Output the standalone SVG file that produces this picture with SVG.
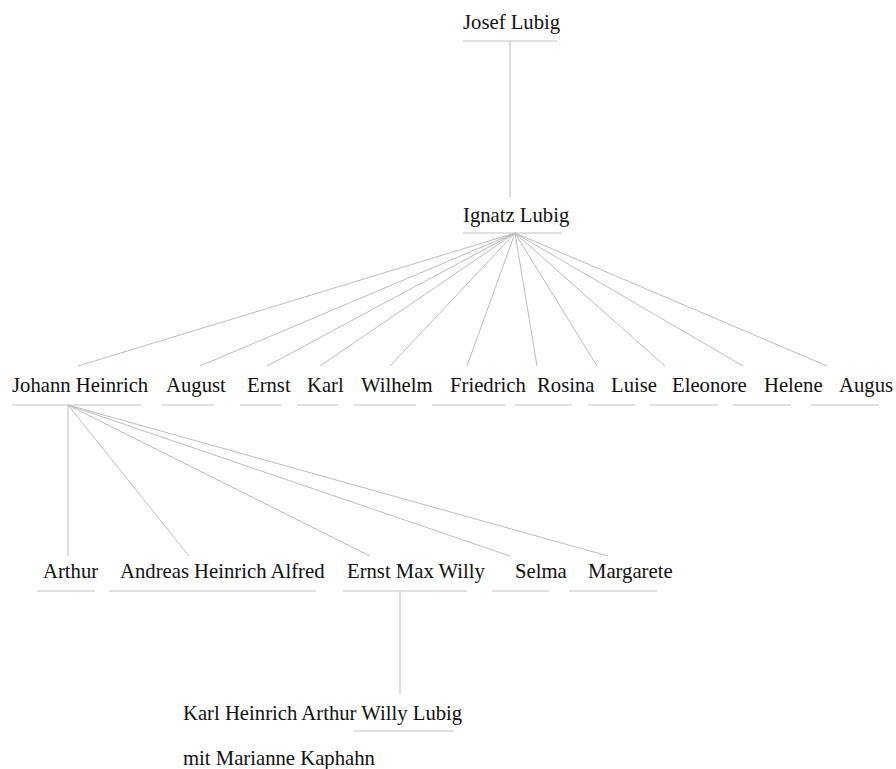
<svg xmlns="http://www.w3.org/2000/svg" width="896" height="769" viewBox="0 0 896 769">
<style>
text{font-family:"Liberation Serif","Times New Roman",serif;font-size:20.7px;fill:#111}
.u{stroke:#c4c4c4;stroke-width:1;fill:none}
.c line{stroke:#bdbdbd;stroke-width:1}
</style>
<rect width="896" height="769" fill="#fff"/>
<g class="c" id="connectors">
<line x1="510" y1="41" x2="510" y2="197"/>
<line x1="515" y1="233" x2="78" y2="366"/>
<line x1="515" y1="233" x2="200" y2="366"/>
<line x1="515" y1="233" x2="267" y2="366"/>
<line x1="515" y1="233" x2="320" y2="366"/>
<line x1="515" y1="233" x2="390" y2="366"/>
<line x1="515" y1="233" x2="467" y2="366"/>
<line x1="515" y1="233" x2="537" y2="366"/>
<line x1="515" y1="233" x2="597" y2="366"/>
<line x1="515" y1="233" x2="665" y2="366"/>
<line x1="515" y1="233" x2="743" y2="366"/>
<line x1="515" y1="233" x2="827" y2="366"/>
<line x1="68" y1="405" x2="68" y2="556"/>
<line x1="68" y1="405" x2="189" y2="556"/>
<line x1="68" y1="405" x2="370" y2="556"/>
<line x1="68" y1="405" x2="510" y2="556"/>
<line x1="68" y1="405" x2="608" y2="556"/>
<line x1="400" y1="591" x2="400" y2="694"/>
</g>
<g id="josef"><text x="463" y="29">Josef Lubig</text><line class="u" x1="463" y1="41" x2="557" y2="41"/></g>
<g id="ignatz"><text x="463" y="222">Ignatz Lubig</text><line class="u" x1="463" y1="233" x2="562" y2="233"/></g>
<g id="johann"><text x="12" y="392">Johann Heinrich</text><line class="u" x1="12" y1="405" x2="141" y2="405"/></g>
<g id="august"><text x="166" y="392">August</text><line class="u" x1="162" y1="405" x2="214" y2="405"/></g>
<g id="ernst"><text x="247" y="392">Ernst</text><line class="u" x1="240" y1="405" x2="281" y2="405"/></g>
<g id="karl"><text x="307" y="392">Karl</text><line class="u" x1="297" y1="405" x2="338" y2="405"/></g>
<g id="wilhelm"><text x="361" y="392">Wilhelm</text><line class="u" x1="354" y1="405" x2="416" y2="405"/></g>
<g id="friedrich"><text x="450" y="392">Friedrich</text><line class="u" x1="432" y1="405" x2="505" y2="405"/></g>
<g id="rosina"><text x="537" y="392">Rosina</text><line class="u" x1="515" y1="405" x2="572" y2="405"/></g>
<g id="luise"><text x="611" y="392">Luise</text><line class="u" x1="588" y1="405" x2="635" y2="405"/></g>
<g id="eleonore"><text x="672" y="392">Eleonore</text><line class="u" x1="650" y1="405" x2="718" y2="405"/></g>
<g id="helene"><text x="764" y="392">Helene</text><line class="u" x1="733" y1="405" x2="791" y2="405"/></g>
<g id="augus"><text x="839" y="392">Augus</text><line class="u" x1="811" y1="405" x2="879" y2="405"/></g>
<g id="arthur"><text x="43" y="578">Arthur</text><line class="u" x1="37" y1="591" x2="95" y2="591"/></g>
<g id="andreas"><text x="120" y="578">Andreas Heinrich Alfred</text><line class="u" x1="109" y1="591" x2="316" y2="591"/></g>
<g id="ernstmaxwilly"><text x="347" y="578">Ernst Max Willy</text><line class="u" x1="343" y1="591" x2="467" y2="591"/></g>
<g id="selma"><text x="515" y="578">Selma</text><line class="u" x1="492" y1="591" x2="549" y2="591"/></g>
<g id="margarete"><text x="588" y="578">Margarete</text><line class="u" x1="569" y1="591" x2="657" y2="591"/></g>
<g id="karlheinrich"><text x="183" y="720">Karl Heinrich Arthur Willy Lubig</text><text x="183" y="765">mit Marianne Kaphahn</text><line class="u" x1="354" y1="731" x2="453" y2="731"/></g>
</svg>
